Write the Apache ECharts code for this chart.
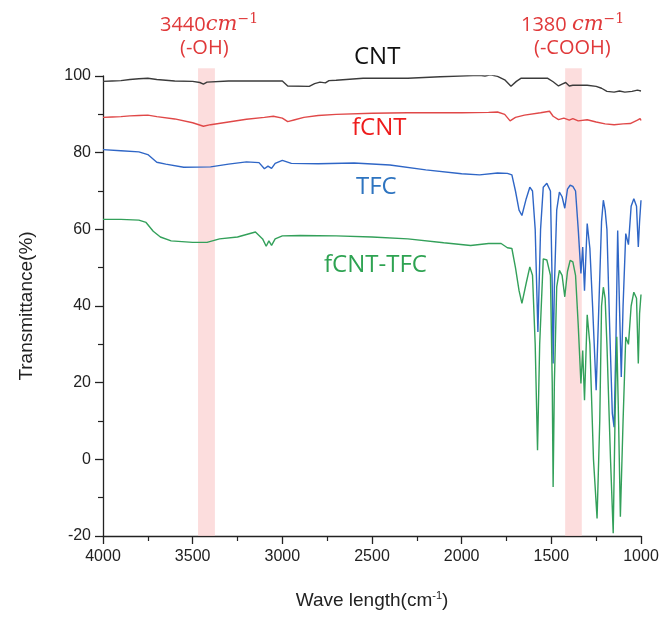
<!DOCTYPE html>
<html><head><meta charset="utf-8">
<script src="https://cdn.jsdelivr.net/npm/echarts@6/dist/echarts.min.js"></script>
<style>html,body{margin:0;padding:0;background:#fff}#c{width:665px;height:617px}</style>
</head><body><div id="c"></div>
<script>
// x ticks / y ticks
const xTicks = [4000, 3500, 3000, 2500, 2000, 1500, 1000];
const yTicks = [-20, 0, 20, 40, 60, 80, 100];
const seriesNames = ['CNT', 'fCNT', 'TFC', 'fCNT-TFC'];
// highlighted bands [from, to] in cm-1
const bands = [[3376, 3470], [1330, 1423]];
const bandTop = 102;
// spectra: [wavenumber, transmittance]
const cntData = [[4000,98.6],[3950,98.7],[3900,98.8],[3850,99.1],[3800,99.3],[3750,99.4],[3700,99.1],[3650,98.9],[3600,98.7],[3500,98.6],[3460,98.3],[3440,97.9],[3420,98.4],[3300,98.7],[3000,98.7],[2970,97.4],[2850,97.3],[2820,98.0],[2790,98.4],[2760,98.2],[2740,98.8],[2700,98.9],[2550,99.4],[2300,99.4],[2120,99.8],[1900,100.2],[1870,100.0],[1840,100.3],[1800,99.9],[1760,99.0],[1725,97.3],[1695,98.6],[1670,99.4],[1520,99.4],[1490,98.5],[1460,97.4],[1440,97.9],[1420,98.3],[1400,97.4],[1380,97.6],[1350,97.6],[1300,97.6],[1250,97.3],[1220,96.8],[1190,96.0],[1150,95.8],[1120,96.1],[1090,95.8],[1050,96.0],[1020,96.3],[1000,96.1]];
const fcntData = [[4000,89.2],[3950,89.3],[3900,89.4],[3850,89.6],[3800,89.7],[3750,89.8],[3700,89.4],[3600,88.8],[3500,87.8],[3440,86.9],[3400,87.3],[3300,88.0],[3200,88.7],[3100,89.2],[3050,89.5],[3000,89.0],[2970,88.1],[2930,88.6],[2880,89.2],[2800,89.7],[2700,90.0],[2500,90.3],[2300,90.4],[2000,90.4],[1850,90.5],[1800,90.6],[1760,90.0],[1730,88.3],[1700,89.2],[1650,89.8],[1560,90.4],[1510,90.8],[1490,89.5],[1460,88.6],[1430,89.0],[1400,88.5],[1380,88.9],[1350,88.3],[1300,88.6],[1250,88.0],[1200,87.5],[1150,87.3],[1100,87.5],[1060,87.6],[1020,88.5],[1005,88.9],[1000,88.4]];
const tfcData = [[4000,80.8],[3900,80.5],[3800,80.2],[3750,79.5],[3700,77.5],[3650,77.0],[3550,76.2],[3400,76.3],[3300,77.0],[3200,77.6],[3130,77.4],[3100,75.8],[3080,76.5],[3060,75.9],[3040,77.2],[3000,78.0],[2950,77.2],[2800,77.1],[2600,77.3],[2400,76.8],[2200,75.5],[2000,74.5],[1900,74.2],[1800,74.7],[1745,74.6],[1720,74.2],[1700,70.0],[1680,65.0],[1664,63.6],[1640,68.0],[1620,71.0],[1605,70.0],[1590,60.0],[1575,33.2],[1560,60.0],[1545,71.0],[1525,72.0],[1505,70.0],[1495,45.0],[1490,25.0],[1483,45.0],[1470,65.0],[1455,69.7],[1440,68.5],[1425,65.5],[1410,70.5],[1395,71.5],[1380,71.2],[1365,70.0],[1350,60.0],[1335,48.5],[1325,55.4],[1315,44.0],[1300,61.5],[1285,55.0],[1270,40.0],[1250,18.0],[1235,40.0],[1220,62.0],[1210,67.6],[1200,65.0],[1190,60.0],[1175,35.0],[1160,12.0],[1150,8.4],[1140,30.0],[1130,59.7],[1120,40.0],[1110,21.5],[1100,40.0],[1085,58.9],[1070,56.0],[1055,66.0],[1040,68.0],[1025,66.0],[1015,55.4],[1008,62.0],[1000,67.6]];
const fcntTfcData = [[4000,62.6],[3900,62.6],[3800,62.4],[3760,61.8],[3720,59.5],[3680,58.0],[3620,57.0],[3500,56.6],[3420,56.6],[3350,57.5],[3250,58.0],[3150,59.3],[3110,57.5],[3090,55.6],[3075,57.0],[3060,55.8],[3040,57.5],[3000,58.3],[2900,58.4],[2700,58.3],[2500,58.0],[2300,57.5],[2100,56.5],[1950,55.8],[1850,56.3],[1780,56.3],[1745,55.2],[1720,55.0],[1700,50.0],[1680,44.0],[1664,40.7],[1640,46.0],[1620,50.2],[1605,48.0],[1590,30.0],[1577,2.4],[1565,30.0],[1545,52.3],[1525,52.0],[1505,48.0],[1495,20.0],[1490,-7.2],[1483,20.0],[1470,45.0],[1455,49.3],[1440,48.0],[1425,42.4],[1410,49.0],[1395,51.9],[1380,51.5],[1365,48.0],[1350,35.0],[1335,19.8],[1325,28.4],[1315,15.4],[1300,37.7],[1285,30.0],[1265,0.0],[1245,-15.4],[1230,10.0],[1220,40.0],[1210,44.9],[1200,42.0],[1190,30.0],[1170,0.0],[1155,-19.3],[1145,10.0],[1135,32.0],[1125,10.0],[1115,-15.0],[1100,10.0],[1085,31.9],[1070,30.0],[1055,40.0],[1040,43.6],[1025,42.0],[1015,25.0],[1008,38.0],[1000,43.0]];

const lineColors = ['#3b3b3b', '#e04848', '#2f66c6', '#33a05a'];
const labelColors = ['#111111', '#ee1c1c', '#2e74c0', '#2ea352'];
const bandColor = 'rgba(250, 200, 200, 0.62)';
const annRed = '#e0393a';

const chart = echarts.init(document.getElementById('c'), null, {renderer: 'canvas'});
const mkLine = (name, data, i) => ({
  name, type: 'line', data, showSymbol: false, symbol: 'none', z: 3 + i,
  lineStyle: {color: lineColors[i], width: 1.4}, itemStyle: {color: lineColors[i]}
});
const axisCommon = {
  axisLine: {show: true, onZero: false, lineStyle: {color: '#222', width: 1.3}},
  axisTick: {show: true, inside: false, length: 8, lineStyle: {color: '#222', width: 1.3}},
  minorTick: {show: true, splitNumber: 2, length: 5, lineStyle: {color: '#222', width: 1.2}},
  splitLine: {show: false}
};
const option = {
  animation: false,
  backgroundColor: '#ffffff',
  grid: {left: 103, right: 24, top: 76, bottom: 81, containLabel: false},
  xAxis: Object.assign({
    type: 'value', inverse: true, min: xTicks[xTicks.length - 1], max: xTicks[0], interval: 500,
    name: '{a|Wave length(cm}{s|-1}{a|)}', nameLocation: 'middle', nameGap: 54,
    nameTextStyle: {rich: {
      a: {fontFamily: 'Liberation Sans', fontSize: 19, color: '#222'},
      s: {fontFamily: 'Liberation Sans', fontSize: 11, color: '#222', verticalAlign: 'top', padding: [0,0,10,0]}
    }},
    axisLabel: {fontFamily: 'Liberation Sans', fontSize: 16, color: '#222', margin: 13, formatter: v => String(v)}
  }, axisCommon),
  yAxis: Object.assign({
    type: 'value', min: yTicks[0], max: yTicks[yTicks.length - 1], interval: 20,
    name: 'Transmittance(%)', nameLocation: 'middle', nameGap: 67, nameRotate: 90,
    nameTextStyle: {fontFamily: 'Liberation Sans', fontSize: 19, color: '#222'},
    axisLabel: {fontFamily: 'Liberation Sans', fontSize: 16, color: '#222', margin: 12, formatter: v => String(v)}
  }, axisCommon),
  series: [
    {
      name: 'bands', type: 'custom', data: bands, clip: false, z: 1, silent: true,
      renderItem: (params, api) => {
        const p0 = api.coord([api.value(0), yTicks[0]]);
        const p1 = api.coord([api.value(1), bandTop]);
        return {type: 'rect', shape: {x: Math.min(p0[0], p1[0]), y: p1[1], width: Math.abs(p1[0] - p0[0]), height: p0[1] - p1[1]},
          style: {fill: bandColor}};
      }
    },
    mkLine(seriesNames[0], cntData, 0),
    mkLine(seriesNames[1], fcntData, 1),
    mkLine(seriesNames[2], tfcData, 2),
    mkLine(seriesNames[3], fcntTfcData, 3)
  ],
  graphic: [
    {type: 'text', left: 354, top: 45, style: {text: seriesNames[0], fill: labelColors[0], font: '24px "Open Sans"'}},
    {type: 'text', left: 352, top: 116, style: {text: seriesNames[1], fill: labelColors[1], font: '24px "Open Sans"'}},
    {type: 'text', left: 356, top: 175, style: {text: seriesNames[2], fill: labelColors[2], font: '24px "Open Sans"'}},
    {type: 'text', left: 324, top: 253, style: {text: seriesNames[3], fill: labelColors[3], font: '24px "Open Sans"'}},
    {type: 'text', left: 160, top: 12, style: {
      text: '{n|3440}{i|cm}{s|−1}',
      rich: {
        n: {font: '20px "Open Sans"', fill: annRed},
        i: {font: 'italic 21px "DejaVu Serif"', fill: annRed},
        s: {font: '14px "DejaVu Serif"', fill: annRed, verticalAlign: 'top', padding: [0,0,12,0]}
      }}},
    {type: 'text', left: 180, top: 38, style: {text: '(-OH)', fill: annRed, font: '20px "Open Sans"'}},
    {type: 'text', left: 521, top: 12, style: {
      text: '{n|1380 }{i|cm}{s|−1}',
      rich: {
        n: {font: '20px "Open Sans"', fill: annRed},
        i: {font: 'italic 21px "DejaVu Serif"', fill: annRed},
        s: {font: '14px "DejaVu Serif"', fill: annRed, verticalAlign: 'top', padding: [0,0,12,0]}
      }}},
    {type: 'text', left: 534, top: 38, style: {text: '(-COOH)', fill: annRed, font: '20px "Open Sans"'}}
  ]
};
chart.setOption(option);
</script></body></html>
